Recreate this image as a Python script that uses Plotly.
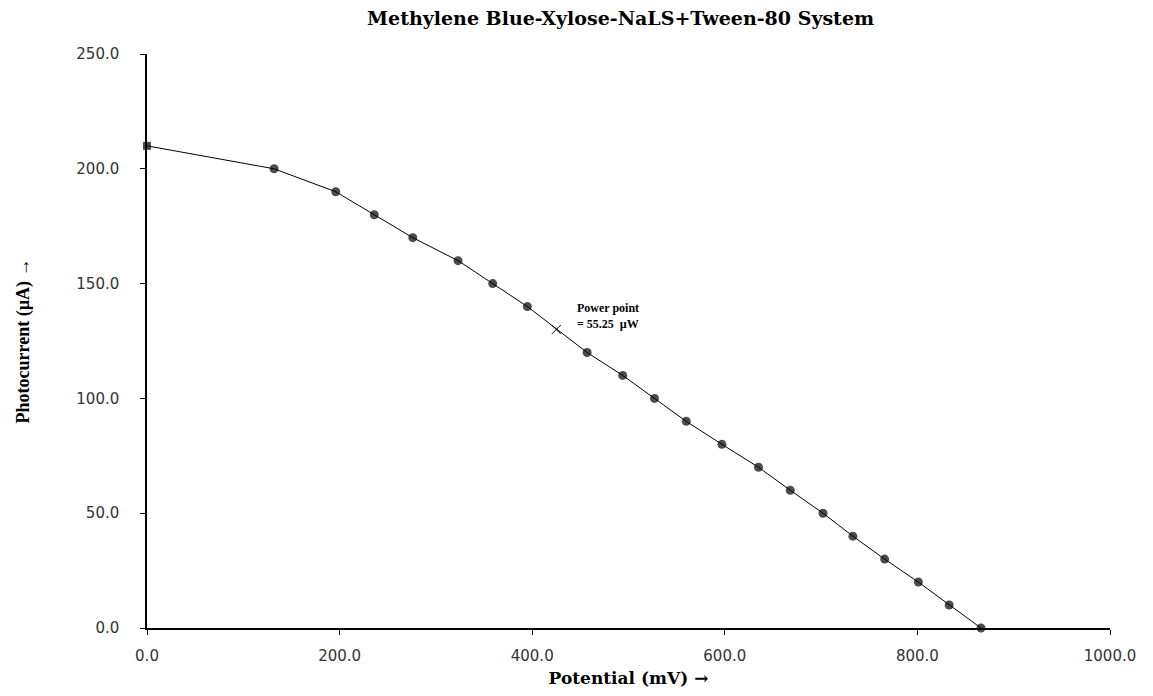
import plotly.graph_objects as go

# Data
potential_mv = [0, 132, 196, 236, 276, 323, 359, 395, 457, 494, 527, 560,
                597, 635, 668, 702, 733, 766, 801, 833, 866]
photocurrent_ua = [210, 200, 190, 180, 170, 160, 150, 140, 120, 110, 100, 90,
                   80, 70, 60, 50, 40, 30, 20, 10, 0]
power_point_x = [425]
power_point_y = [130]
power_label = "Power point<br>= 55.25  µW"

x_ticks = [0, 200, 400, 600, 800, 1000]
y_ticks = [0, 50, 100, 150, 200, 250]

symbols = ["square"] + ["circle"] * (len(potential_mv) - 1)
sizes = [8] + [9] * (len(potential_mv) - 1)

fig = go.Figure()
fig.add_trace(go.Scatter(
    x=potential_mv, y=photocurrent_ua, mode="lines+markers",
    line=dict(color="black", width=1),
    marker=dict(color="black", symbol=symbols, size=sizes,
                line=dict(width=0)),
    showlegend=False, cliponaxis=False,
))
fig.add_trace(go.Scatter(
    x=power_point_x, y=power_point_y, mode="markers",
    marker=dict(symbol="x-thin", size=9, line=dict(color="black", width=1)),
    showlegend=False,
))
fig.add_annotation(
    x=power_point_x[0], y=power_point_y[0], xref="x", yref="y",
    text=power_label, showarrow=False, xanchor="left", yanchor="bottom",
    xshift=19, yshift=-3, align="left",
    font=dict(family="Liberation Serif", size=12, color="black", weight="bold"),
)

tick_font = dict(family="DejaVu Sans", size=15, color="#333333")
fig.update_layout(
    width=1145, height=688,
    paper_bgcolor="white", plot_bgcolor="white",
    margin=dict(l=139, r=43, t=46, b=68, autoexpand=False),
    title=dict(
        text="Methylene Blue-Xylose-NaLS+Tween-80 System",
        x=0.535, xanchor="center", y=0.994, yanchor="top",
        font=dict(family="DejaVu Serif", size=19, color="black", weight="bold"),
    ),
    xaxis=dict(
        range=[0, 1000], tickvals=x_ticks, tickformat=".1f",
        showline=True, linecolor="black", linewidth=1.5,
        ticks="outside", ticklen=5, tickcolor="black",
        showgrid=False, zeroline=False, tickfont=tick_font,
        ticklabelstandoff=8, automargin=False,
        title=dict(text="Potential (mV) →", standoff=8,
                   font=dict(family="DejaVu Serif", size=17, color="black", weight="bold")),
    ),
    yaxis=dict(
        range=[0, 250], tickvals=y_ticks, tickformat=".1f",
        showline=True, linecolor="black", linewidth=1.5,
        ticks="outside", ticklen=5, tickcolor="black",
        showgrid=False, zeroline=False, tickfont=tick_font,
        ticklabelstandoff=18, automargin=False,
        title=dict(text="Photocurrent (µA) →", standoff=42,
                   font=dict(family="Liberation Serif, DejaVu Serif", size=18,
                             color="black", weight="bold")),
    ),
)

fig.write_html("out.html")
